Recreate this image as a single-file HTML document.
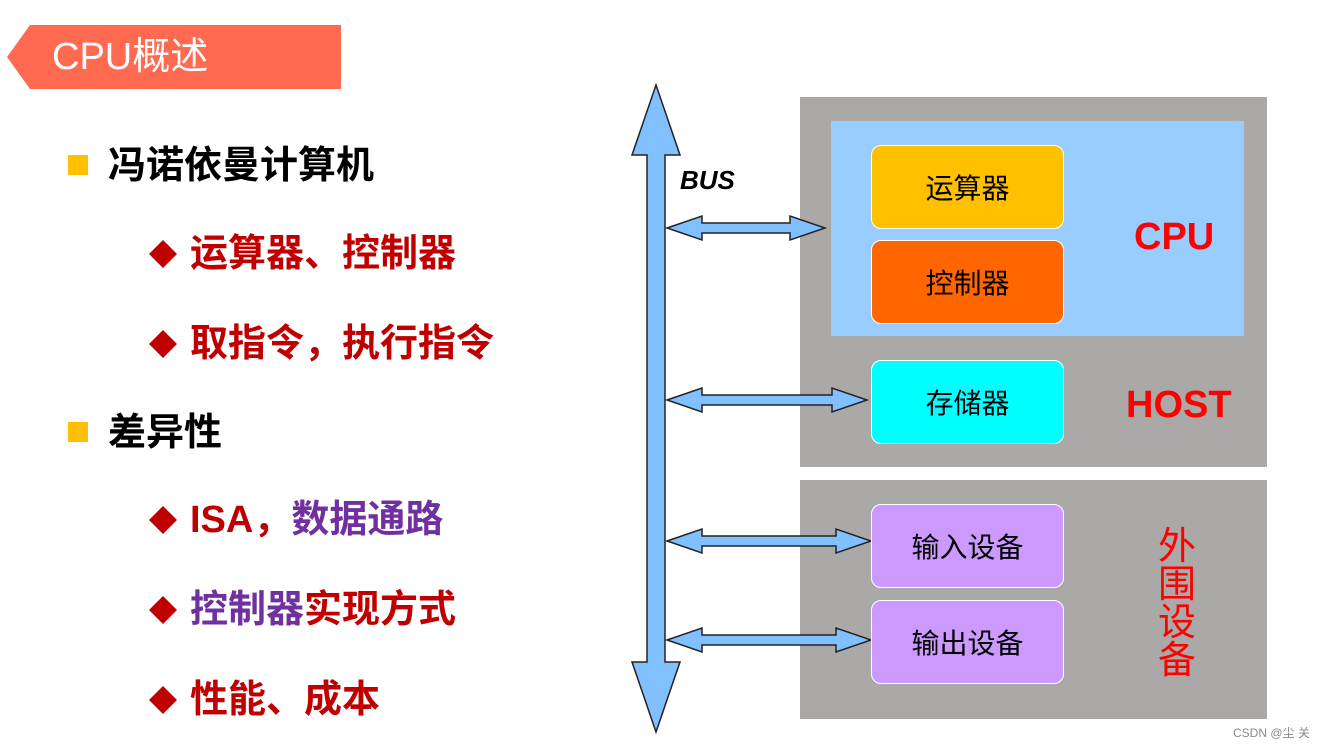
<!DOCTYPE html>
<html><head><meta charset="utf-8"><style>
body{margin:0;width:1335px;height:748px;background:#fff;position:relative;overflow:hidden;font-family:"Liberation Sans","Noto Sans CJK SC",sans-serif}
.a{position:absolute;white-space:nowrap}
.t{font-weight:bold;font-size:38px;line-height:40px}
.sq{position:absolute;width:20px;height:20px;background:#ffc000}
.box{position:absolute;border:1px solid #fff;border-radius:10px;box-sizing:border-box;font-size:28px;display:flex;align-items:center;justify-content:center;color:#000}
.r{color:#c00000}.p{color:#7030a0}
</style></head><body>
<svg class="a" style="left:0;top:0" width="1335" height="748">
<polygon points="30,25 341,25 341,89 30,89 7,57" fill="#ff6a50"/>
<rect x="800" y="97" width="467" height="370" fill="#aaa9a8"/>
<rect x="831" y="121" width="413" height="215" fill="#99ccff"/>
<rect x="800" y="480" width="467" height="239" fill="#aaa9a8"/>
<polygon points="656,85 680,155 665,155 665,662 680,662 656,732 632,662 647,662 647,155 632,155" fill="#80c0ff" stroke="#222" stroke-width="1.5"/>
<g fill="#80c0ff" stroke="#222" stroke-width="1.5">
<polygon points="667,228 702,216 702,223 790,223 790,216 825,228 790,240 790,233 702,233 702,240"/>
<polygon points="667,400 702,388 702,395 832,395 832,388 867,400 832,412 832,405 702,405 702,412"/>
<polygon points="667,541 702,529 702,536 836,536 836,529 871,541 836,553 836,546 702,546 702,553"/>
<polygon points="667,640 702,628 702,635 836,635 836,628 871,640 836,652 836,645 702,645 702,652"/>
</g>
<g fill="#c00000">
<polygon points="163,240 177,254 163,268 149,254"/>
<polygon points="163,330 177,344 163,358 149,344"/>
<polygon points="163,506 177,520 163,534 149,520"/>
<polygon points="163,596 177,610 163,624 149,610"/>
<polygon points="163,686 177,700 163,714 149,700"/>
</g>
</svg>
<div class="a" style="left:52px;top:33px;font-size:38px;color:#fff;line-height:48px">CPU概述</div>
<div class="sq" style="left:68px;top:155px"></div>
<div class="a t" style="left:108px;top:146px">冯诺依曼计算机</div>
<div class="a t r" style="left:190px;top:234px">运算器、控制器</div>
<div class="a t r" style="left:190px;top:324px">取指令，执行指令</div>
<div class="sq" style="left:68px;top:422px"></div>
<div class="a t" style="left:108px;top:413px">差异性</div>
<div class="a t" style="left:190px;top:500px"><span class="r">ISA，</span><span class="p">数据通路</span></div>
<div class="a t" style="left:190px;top:590px"><span class="p">控制器</span><span class="r">实现方式</span></div>
<div class="a t r" style="left:190px;top:680px">性能、成本</div>
<div class="a" style="left:680px;top:165px;font-size:26px;font-weight:bold;font-style:italic">BUS</div>
<div class="box" style="left:871px;top:145px;width:193px;height:84px;background:#ffc000">运算器</div>
<div class="box" style="left:871px;top:240px;width:193px;height:84px;background:#ff6600">控制器</div>
<div class="box" style="left:871px;top:360px;width:193px;height:84px;background:#00ffff">存储器</div>
<div class="box" style="left:871px;top:504px;width:193px;height:84px;background:#cc99ff">输入设备</div>
<div class="box" style="left:871px;top:600px;width:193px;height:84px;background:#cc99ff">输出设备</div>
<div class="a" style="left:1134px;top:216px;font-size:38px;font-weight:bold;color:#ff0000">CPU</div>
<div class="a" style="left:1126px;top:384px;font-size:38px;font-weight:bold;color:#ff0000">HOST</div>
<div class="a" style="left:1158px;top:528px;font-size:38px;color:#ff0000;line-height:38px;white-space:normal;width:40px">外围设备</div>
<div class="a" style="left:1233px;top:724px;font-size:12px;color:#888">CSDN @尘 关</div>
</body></html>
